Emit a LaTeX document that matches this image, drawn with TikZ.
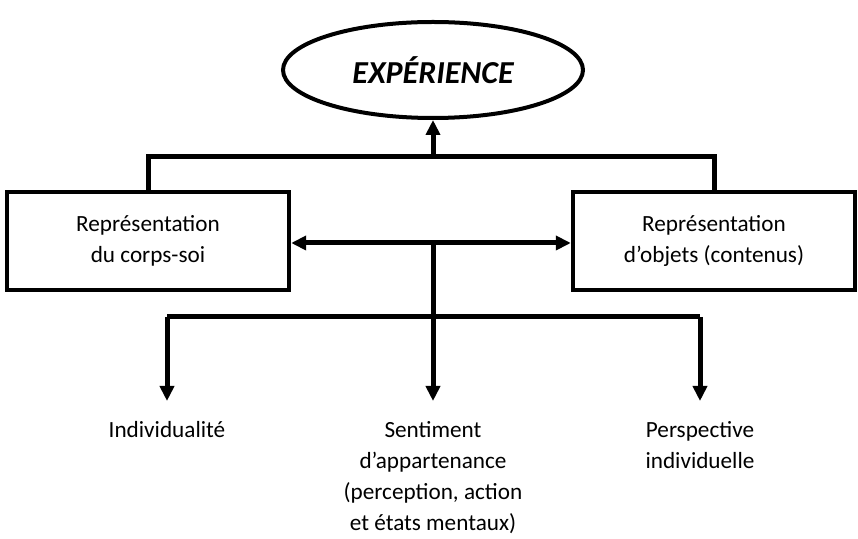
\documentclass[tikz,border=0pt]{standalone}
\usepackage{fontspec}
\setmainfont{Carlito}
\usetikzlibrary{positioning,shapes.geometric,arrows.meta}

\tikzset{
  box/.style={rectangle, draw, line width=2.2pt, minimum width=141pt, minimum height=49pt, align=center},
  txt/.style={align=center, inner sep=0pt},
  link/.style={line width=2.5pt},
  arr/.style={line width=2.5pt, -{Triangle[width=7pt,length=7.5pt]}},
  darr/.style={line width=2.5pt, {Triangle[width=7pt,length=7.5pt]}-{Triangle[width=7pt,length=7.5pt]}}
}

\begin{document}
\begin{tikzpicture}[x=0.5pt, y=-0.5pt, font=\fontsize{11.6}{15.5}\selectfont]

  \useasboundingbox (0,0) rectangle (858,539);

      % top
      \node (Exp) [ellipse, draw, line width=2pt, inner sep=0pt, minimum width=150pt, minimum height=48pt, font=\fontsize{16}{19}\selectfont\bfseries\itshape] at (433,70) {EXPÉRIENCE};

      % the two representations
      \node (Corps) [box] at (148,241) {Représentation\\du corps-soi};
      \node (Objets) [box] at (714,241) {Représentation\\d'objets (contenus)};

      \coordinate (Top) at (433,157);
      \coordinate (Mid) at (433,243);
      \coordinate (Bot) at (433,317);

      % the three outcomes
      \node (Ind) [txt, anchor=north] at (167,421) {Individualité};
      \node (Sent) [txt, anchor=north] at (433,421) {Sentiment\\d'appartenance\\(perception, action\\et états mentaux)};
      \node (Persp) [txt, anchor=north] at (700,421) {Perspective\\individuelle};

      \draw[link] (Corps.north) |- (Top) -| (Objets.north);
      \draw[arr] (Top) -- (Exp.south);
      \draw[darr] (Corps.east |- Mid) -- (Objets.west |- Mid);

      \draw[link] (Ind.north |- Bot) -- (Persp.north |- Bot);
      \draw[arr, shorten >=10pt] (Ind.north |- Bot) -- (Ind.north);
      \draw[arr, shorten >=10pt] (Mid) -- (Sent.north);
      \draw[arr, shorten >=10pt] (Persp.north |- Bot) -- (Persp.north);

\end{tikzpicture}
\end{document}
